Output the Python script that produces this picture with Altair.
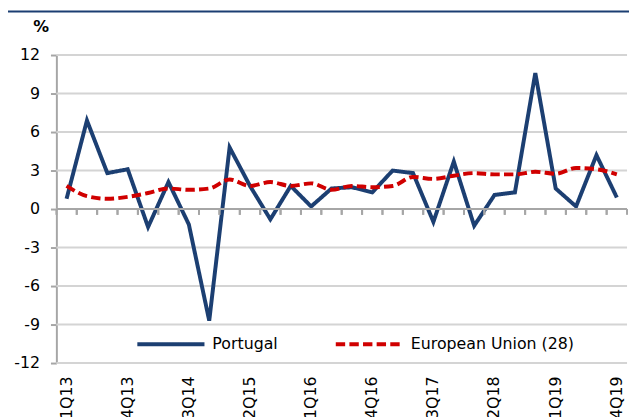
import altair as alt
import pandas as pd

quarters = ["1Q13", "2Q13", "3Q13", "4Q13", "1Q14", "2Q14", "3Q14", "4Q14",
            "1Q15", "2Q15", "3Q15", "4Q15", "1Q16", "2Q16", "3Q16", "4Q16",
            "1Q17", "2Q17", "3Q17", "4Q17", "1Q18", "2Q18", "3Q18", "4Q18",
            "1Q19", "2Q19", "3Q19", "4Q19"]
portugal = [0.8, 6.9, 2.8, 3.1, -1.4, 2.1, -1.2, -8.7, 4.8, 1.8, -0.8, 1.8,
            0.2, 1.6, 1.7, 1.3, 3.0, 2.8, -1.0, 3.7, -1.3, 1.1, 1.3, 10.6,
            1.6, 0.2, 4.2, 0.9]
eu28 = [1.8, 1.0, 0.8, 0.95, 1.25, 1.6, 1.5, 1.6, 2.3, 1.8, 2.1, 1.8,
        2.0, 1.5, 1.8, 1.7, 1.8, 2.5, 2.35, 2.6, 2.8, 2.7, 2.7, 2.9,
        2.75, 3.2, 3.1, 2.7]
series_names = ["Portugal", "European Union (28)"]
tick_labels = quarters[::3]
y_ticks = [-12, -9, -6, -3, 0, 3, 6, 9, 12]
title_text = "(Working days adjusted data)"

NAVY = "#1c3f72"
RED = "#d00000"
GRID = "#d4d4d4"
AXIS = "#a6a6a6"
FONT = "DejaVu Sans"
W, H = 578, 312

df = pd.DataFrame({
    "quarter": quarters * 2,
    "value": portugal + eu28,
    "series": [series_names[0]] * len(quarters) + [series_names[1]] * len(quarters),
})
ticks_df = pd.DataFrame({"quarter": quarters})
grid_df = pd.DataFrame({"g": y_ticks})

xscale = alt.Scale(type="band", domain=quarters, paddingInner=0, paddingOuter=0)
yscale = alt.Scale(domain=[-12, 12], nice=False, zero=False)

x_axis = alt.Axis(values=tick_labels, labelAngle=-90, ticks=False,
                  domain=False, grid=False, labelFontSize=16,
                  labelPadding=13, labelColor="black", title=None,
                  labelOverlap=False)
y_axis = alt.Axis(values=y_ticks, tickCount=9, grid=False,
                  domainColor=AXIS, domainWidth=2, tickColor=AXIS,
                  tickWidth=2, tickSize=6, labelFontSize=16,
                  labelPadding=11, labelColor="black",
                  labelOverlap=False, labelExpr="datum.value + ''",
                  title="%", titleAngle=0, titleX=-16, titleY=-29,
                  titleFontWeight="bold", titleFontSize=16,
                  titleAlign="center", titleBaseline="middle",
                  titleColor="black")

x_enc = alt.X("quarter:N", scale=xscale, sort=quarters, bandPosition=0.5, axis=x_axis)
y_enc = alt.Y("value:Q", scale=yscale, axis=y_axis)

color_enc = alt.Color("series:N", title=None,
                      scale=alt.Scale(domain=series_names, range=[NAVY, RED]),
                      legend=alt.Legend(orient="none", legendX=80, legendY=257,
                                        direction="horizontal", symbolType="stroke",
                                        symbolSize=4624, symbolStrokeWidth=4,
                                        labelFontSize=16, labelFont=FONT,
                                        labelColor="black", labelOffset=6,
                                        labelLimit=400,
                                        columnPadding=50, title=None))
dash_enc = alt.StrokeDash("series:N", title=None,
                          scale=alt.Scale(domain=series_names,
                                          range=[[1, 0], [9.5, 4.3]]))

base = alt.Chart(df)

grid = alt.Chart(grid_df).mark_rule(color=GRID, strokeWidth=2, opacity=1).encode(
    y=alt.Y("g:Q", scale=yscale, axis=y_axis),
    x=alt.XDatum(quarters[0], scale=xscale, axis=x_axis, bandPosition=0),
    x2=alt.X2Datum(quarters[-1], bandPosition=1))
zero_line = alt.Chart(ticks_df.head(1)).mark_rule(color=AXIS, strokeWidth=2).encode(
    y=alt.YDatum(0, scale=yscale, axis=y_axis), x=alt.value(0), x2=alt.value(W))
tick_a = alt.Chart(ticks_df).mark_rule(color=AXIS, strokeWidth=2).encode(
    x=alt.X("quarter:N", scale=xscale, sort=quarters, bandPosition=0, axis=x_axis),
    y=alt.YDatum(0, scale=yscale, axis=y_axis), y2=alt.Y2Datum(-0.45))
tick_b = alt.Chart(ticks_df).mark_rule(color=AXIS, strokeWidth=2).encode(
    x=alt.X("quarter:N", scale=xscale, sort=quarters, bandPosition=1, axis=x_axis),
    y=alt.YDatum(0, scale=yscale, axis=y_axis), y2=alt.Y2Datum(-0.45))

pt_line = base.transform_filter(alt.datum.series == series_names[0]).mark_line(
    strokeWidth=4, strokeJoin="miter").encode(
    x=x_enc, y=y_enc, color=color_enc, strokeDash=dash_enc)
eu_line = base.transform_filter(alt.datum.series == series_names[1]).mark_line(
    strokeWidth=4, interpolate="monotone").encode(
    x=x_enc, y=y_enc, color=color_enc, strokeDash=dash_enc)

banner = alt.Chart(ticks_df.head(1)).mark_rect(color="#1b3e72").encode(
    x=alt.value(-49), x2=alt.value(W + 10), y=alt.value(-45), y2=alt.value(-43))
banner_text = alt.Chart(ticks_df.head(1)).mark_text(
    color="white", fontSize=18, font=FONT, baseline="bottom").encode(
    x=alt.value(W / 2 - 40), y=alt.value(-46), text=alt.value(title_text))

chart = alt.layer(grid, pt_line, zero_line, tick_a, tick_b, eu_line, banner, banner_text).properties(
    width=W, height=H,
    autosize=alt.AutoSizeParams(type="none"),
    padding={"left": 49, "top": 45, "right": 2, "bottom": 52},
).configure(font=FONT).configure_view(stroke=None)

chart.save("out.html", embed_options={"renderer": "svg", "actions": False})
